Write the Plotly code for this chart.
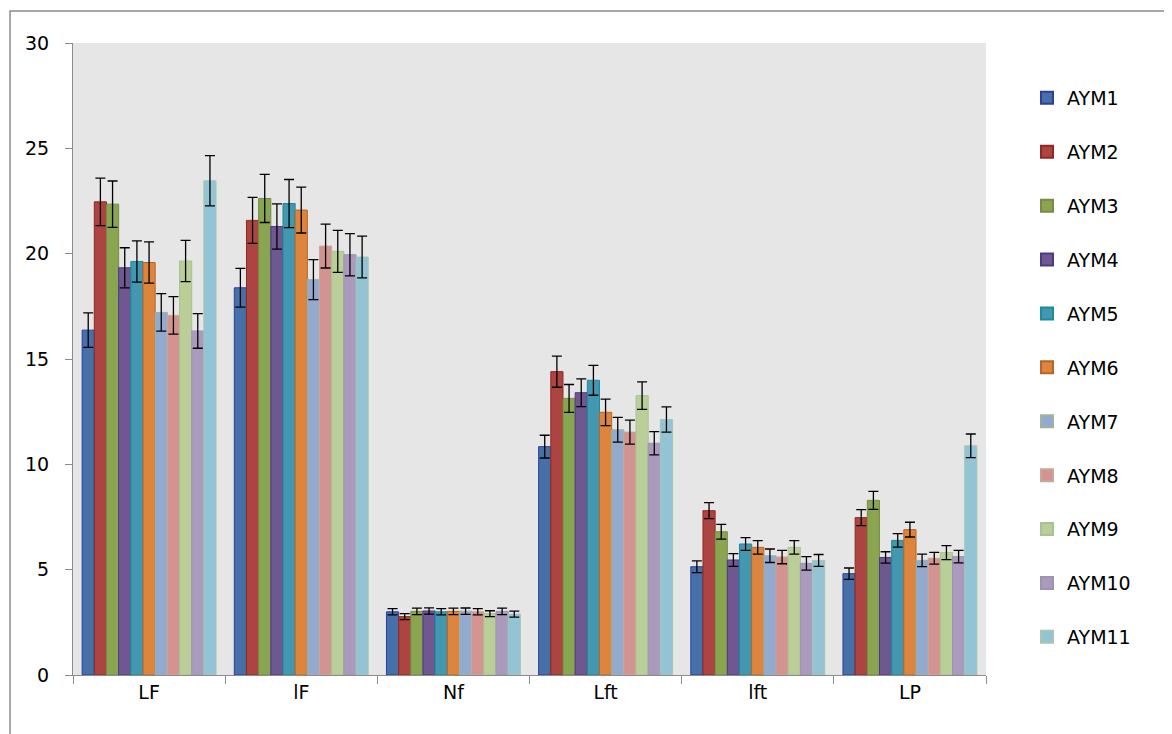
import plotly.graph_objects as go

categories = ["LF", "lF", "Nf", "Lft", "lft", "LP"]
series_names = ["AYM1", "AYM2", "AYM3", "AYM4", "AYM5", "AYM6",
                "AYM7", "AYM8", "AYM9", "AYM10", "AYM11"]

# values per series across categories LF, lF, Nf, Lft, lft, LP
AYM1 = [16.37, 18.38, 3.00, 10.84, 5.14, 4.81]
AYM2 = [22.46, 21.58, 2.77, 14.40, 7.80, 7.47]
AYM3 = [22.35, 22.62, 3.02, 13.13, 6.80, 8.29]
AYM4 = [19.33, 21.29, 3.04, 13.40, 5.46, 5.58]
AYM5 = [19.63, 22.38, 3.00, 13.99, 6.22, 6.39]
AYM6 = [19.58, 22.07, 3.02, 12.47, 6.06, 6.90]
AYM7 = [17.21, 18.77, 3.03, 11.64, 5.66, 5.44]
AYM8 = [17.07, 20.36, 3.00, 11.53, 5.60, 5.54]
AYM9 = [19.65, 20.11, 2.91, 13.26, 6.06, 5.81]
AYM10 = [16.33, 19.95, 3.02, 11.00, 5.30, 5.62]
AYM11 = [23.46, 19.84, 2.89, 12.13, 5.44, 10.88]

# error bar half-lengths
ERR1 = [0.82, 0.92, 0.15, 0.54, 0.28, 0.27]
ERR2 = [1.13, 1.09, 0.14, 0.74, 0.38, 0.38]
ERR3 = [1.10, 1.14, 0.15, 0.66, 0.35, 0.43]
ERR4 = [0.95, 1.07, 0.15, 0.66, 0.30, 0.27]
ERR5 = [0.98, 1.14, 0.15, 0.71, 0.30, 0.32]
ERR6 = [0.98, 1.09, 0.15, 0.63, 0.32, 0.35]
ERR7 = [0.89, 0.95, 0.15, 0.59, 0.32, 0.30]
ERR8 = [0.89, 1.04, 0.15, 0.57, 0.32, 0.28]
ERR9 = [0.98, 1.00, 0.14, 0.65, 0.32, 0.33]
ERR10 = [0.82, 1.00, 0.15, 0.55, 0.32, 0.30]
ERR11 = [1.19, 0.99, 0.14, 0.60, 0.28, 0.56]

values = [AYM1, AYM2, AYM3, AYM4, AYM5, AYM6, AYM7, AYM8, AYM9, AYM10, AYM11]
errors = [ERR1, ERR2, ERR3, ERR4, ERR5, ERR6, ERR7, ERR8, ERR9, ERR10, ERR11]

fill_colors = ["#4570A8", "#AC4542", "#8AA54F", "#6F5790", "#4298B0", "#DD853D",
               "#93AACF", "#D39391", "#BACE97", "#AA9BBE", "#93C4D6"]
line_colors = ["#2E3F9A", "#8E2A1F", "#7A8A45", "#4A3A8A", "#1F8A99", "#B5652A",
               "#9DB3A0", "#C8A79A", "#A9C293", "#9C93AE", "#A3C7B0"]

FONT = "DejaVu Sans"

fig = go.Figure()
for i, name in enumerate(series_names):
    fig.add_trace(go.Bar(
        name=name,
        x=categories,
        y=values[i],
        legendgroup=name,
        marker=dict(color=fill_colors[i], line=dict(color=line_colors[i], width=1)),
        error_y=dict(type="data", array=errors[i], visible=True,
                     color="#000000", thickness=1.3, width=5),
    ))

W, H = 1172, 734
OFF = 8  # page body margin in the browser
left_px, right_px, top_px, bottom_px = 73, 986, 43, 675
L = left_px - OFF
R = W - (right_px - OFF)
T = top_px - OFF
B = H - (bottom_px - OFF)
pw, ph = right_px - left_px, bottom_px - top_px

def px_x(px):
    return (px - left_px) / pw

def px_y(py):
    return (bottom_px - py) / ph

fig.update_layout(
    width=W, height=H,
    margin=dict(l=L, r=R, t=T, b=B, autoexpand=False),
    paper_bgcolor="white",
    plot_bgcolor="#E6E6E6",
    barmode="group",
    bargap=0.12,
    bargroupgap=0,
    font=dict(family=FONT, size=19, color="#000000"),
    showlegend=True,
    legend=dict(
        x=px_x(1027), y=px_y(79), xanchor="left", yanchor="top",
        xref="paper", yref="paper",
        font=dict(family=FONT, size=19, color="#000000"),
        tracegroupgap=26.2,
        bgcolor="rgba(0,0,0,0)",
        itemsizing="constant",
    ),
    xaxis=dict(
        showgrid=False, showline=True, linecolor="#8C8C8C", linewidth=1,
        ticks="outside", tickson="boundaries", ticklen=8, tickcolor="#8C8C8C",
        tickfont=dict(family=FONT, size=19), zeroline=False,
    ),
    yaxis=dict(
        range=[0, 30], dtick=5, showgrid=False, showline=True,
        linecolor="#8C8C8C", linewidth=1, ticks="outside", ticklen=7,
        tickcolor="#8C8C8C", tickfont=dict(family=FONT, size=19),
        zeroline=False, ticklabelstandoff=12,
    ),
    shapes=[
        dict(type="rect", xref="paper", yref="paper",
             x0=px_x(10), x1=px_x(1190), y0=px_y(760), y1=px_y(11),
             line=dict(color="#8C8C8C", width=1.5), fillcolor="rgba(0,0,0,0)",
             layer="below"),
    ],
)

fig.write_html("out.html")
